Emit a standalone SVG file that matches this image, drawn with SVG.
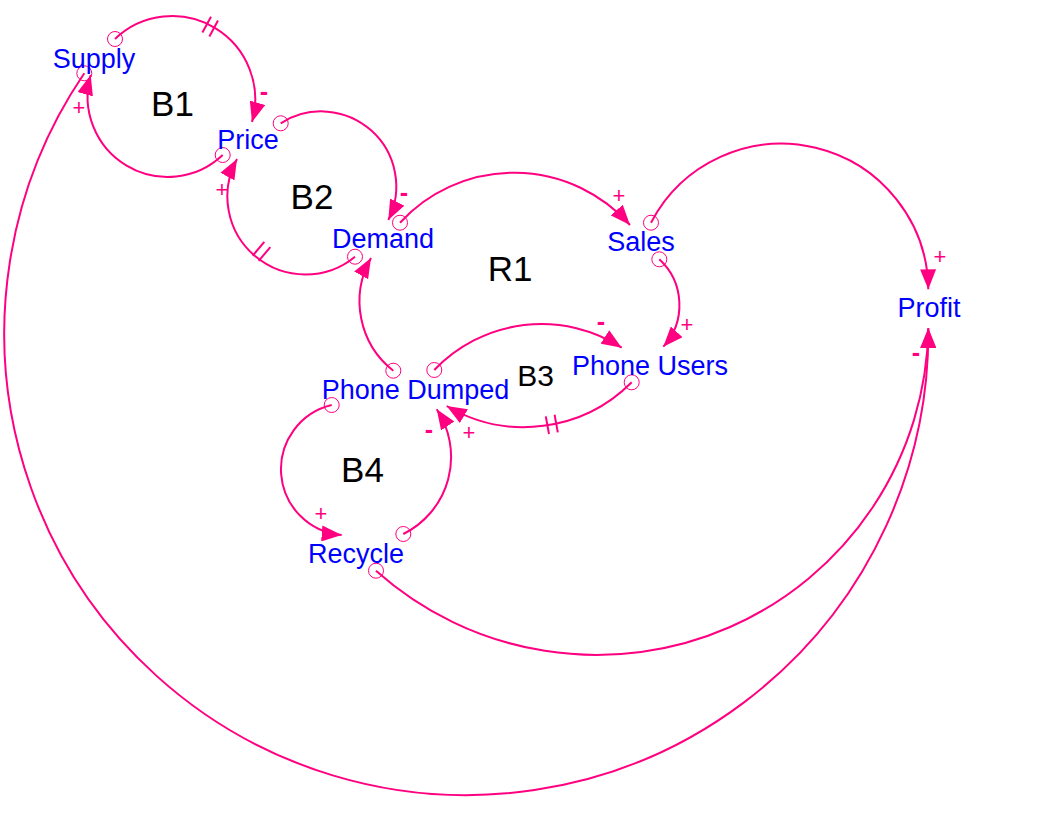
<svg xmlns="http://www.w3.org/2000/svg" width="1038" height="824" viewBox="0 0 1038 824">
<defs>
<marker id="arr" viewBox="0 0 20 16" refX="20" refY="8" markerWidth="20" markerHeight="16" markerUnits="userSpaceOnUse" orient="auto">
<path d="M0,0 L20,8 L0,16 Z" fill="#FF0080"/>
</marker>
</defs>
<style>
.var{font-family:"Liberation Sans",Arial,sans-serif;font-size:27px;fill:#0000FF;text-anchor:middle}
.loop{font-family:"Liberation Sans",Arial,sans-serif;font-size:35px;fill:#000000;text-anchor:middle}
.link{fill:none;stroke:#FF0080;stroke-width:2;marker-end:url(#arr)}
.tail{fill:none;stroke:#FF0080;stroke-width:1}
.delay{stroke:#FF0080;stroke-width:2}
.sign{font-family:"Liberation Sans",Arial,sans-serif;font-size:22px;fill:#FF0080;text-anchor:middle}
.neg{font-family:"Liberation Sans",Arial,sans-serif;font-size:25px;font-weight:bold;fill:#FF0080;text-anchor:middle}
</style>
<rect width="1038" height="824" fill="#FFFFFF"/>

<g id="connectors">
  <g id="supply-price">
    <path class="link" d="M115,39 A83,83 0 0 1 252,122"/>
    <circle class="tail" cx="115" cy="39" r="7.5"/>
    <line class="delay" x1="202.4" y1="32.6" x2="211" y2="16.8"/>
    <line class="delay" x1="209.4" y1="36.4" x2="218" y2="20.6"/>
    <text class="neg" x="264" y="100">-</text>
  </g>
  <g id="price-supply">
    <path class="link" d="M222.7,155 A80,80 0 0 1 90.7,75"/>
    <circle class="tail" cx="222.7" cy="155" r="7.5"/>
    <text class="sign" x="79" y="115">+</text>
  </g>
  <g id="price-demand">
    <path class="link" d="M280.7,123.3 A75,75 0 0 1 388.3,220"/>
    <circle class="tail" cx="280.7" cy="123.3" r="7.5"/>
    <text class="neg" x="404" y="201">-</text>
  </g>
  <g id="demand-price">
    <path class="link" d="M355,256.7 A78,78 0 0 1 237,159"/>
    <circle class="tail" cx="355" cy="256.7" r="7.5"/>
    <line class="delay" x1="264.3" y1="241.9" x2="252.7" y2="255.7"/>
    <line class="delay" x1="270.3" y1="247.1" x2="258.7" y2="260.9"/>
    <text class="sign" x="222" y="197">+</text>
  </g>
  <g id="demand-sales">
    <path class="link" d="M400,222.7 A155,155 0 0 1 630,225"/>
    <circle class="tail" cx="400" cy="222.7" r="7.5"/>
    <text class="sign" x="619" y="203">+</text>
  </g>
  <g id="sales-users">
    <path class="link" d="M659.3,259.3 A62,62 0 0 1 663.3,346.7"/>
    <circle class="tail" cx="659.3" cy="259.3" r="7.5"/>
    <text class="sign" x="687" y="332">+</text>
  </g>
  <g id="sales-profit">
    <path class="link" d="M651,222.7 A147,147 0 0 1 928.3,289.3"/>
    <circle class="tail" cx="651" cy="222.7" r="7.5"/>
    <text class="sign" x="940" y="264">+</text>
  </g>
  <g id="dumped-demand">
    <path class="link" d="M393.3,370.7 A88,88 0 0 1 371,258"/>
    <circle class="tail" cx="393.3" cy="370.7" r="7.5"/>
  </g>
  <g id="dumped-users">
    <path class="link" d="M434.3,370 A148,148 0 0 1 621.7,347.7"/>
    <circle class="tail" cx="434.3" cy="370" r="7.5"/>
    <text class="neg" x="601" y="330">-</text>
  </g>
  <g id="users-dumped">
    <path class="link" d="M631.7,382.3 A152,152 0 0 1 446.7,406"/>
    <circle class="tail" cx="631.7" cy="382.3" r="7.5"/>
    <line class="delay" x1="545.8" y1="416.4" x2="549" y2="434"/>
    <line class="delay" x1="554.6" y1="414.8" x2="557.8" y2="432.4"/>
    <text class="sign" x="469" y="440">+</text>
  </g>
  <g id="dumped-recycle">
    <path class="link" d="M331.7,405 A66,66 0 0 0 341.7,535"/>
    <circle class="tail" cx="331.7" cy="405" r="7.5"/>
    <text class="sign" x="321" y="521">+</text>
  </g>
  <g id="recycle-dumped">
    <path class="link" d="M403.3,534 A86,86 0 0 0 436.7,409.3"/>
    <circle class="tail" cx="403.3" cy="534" r="7.5"/>
    <text class="neg" x="429" y="438">-</text>
  </g>
  <g id="recycle-profit">
    <path class="link" d="M376,570.7 A331.5,331.5 0 0 0 928.3,328.3"/>
    <circle class="tail" cx="376" cy="570.7" r="7.5"/>
  </g>
  <g id="supply-profit">
    <path class="link" d="M84.3,73.3 A462,462 0 1 0 928.3,328.3"/>
    <circle class="tail" cx="84.3" cy="73.3" r="7.5"/>
    <text class="neg" x="916" y="361">-</text>
  </g>
</g>

<g id="node-supply"><text class="var" x="94" y="68">Supply</text></g>
<g id="node-price"><text class="var" x="248" y="149">Price</text></g>
<g id="node-demand"><text class="var" x="383" y="248">Demand</text></g>
<g id="node-sales"><text class="var" x="641" y="251">Sales</text></g>
<g id="node-profit"><text class="var" x="929" y="317">Profit</text></g>
<g id="node-phone-users"><text class="var" x="650" y="375">Phone Users</text></g>
<g id="node-phone-dumped"><text class="var" x="415.5" y="399">Phone Dumped</text></g>
<g id="node-recycle"><text class="var" x="356" y="563">Recycle</text></g>

<g id="loops">
  <text class="loop" x="172.5" y="116">B1</text>
  <text class="loop" x="312" y="209">B2</text>
  <text class="loop" x="510" y="281">R1</text>
  <text class="loop" x="535.5" y="386" style="font-size:30px">B3</text>
  <text class="loop" x="362.5" y="482">B4</text>
</g>
</svg>
